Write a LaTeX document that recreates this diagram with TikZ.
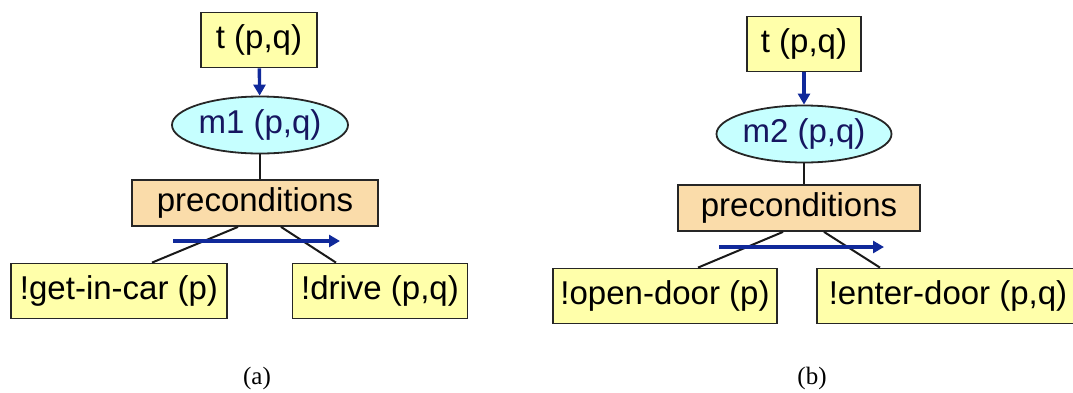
\documentclass[tikz,border=0pt]{standalone}
\usepackage{fontspec}
\setmainfont{Liberation Sans}
\newfontfamily\capfont{Liberation Serif}
\usetikzlibrary{shapes,arrows.meta}
\definecolor{taskyellow}{HTML}{FFFFAA}
\definecolor{methcyan}{HTML}{C6FFFF}
\definecolor{precorange}{HTML}{FADCAA}
\definecolor{flowblue}{HTML}{10299A}
\definecolor{methtext}{HTML}{161660}
\begin{document}
\begin{tikzpicture}[x=1pt,y=1pt]
\tikzstyle{every node}=[font=\fontsize{33}{36}\selectfont,inner sep=0pt,line width=1.8pt,draw=black!85]
\tikzstyle{task}=[rectangle,fill=taskyellow,minimum height=55pt]
\tikzstyle{meth}=[ellipse,fill=methcyan,text=methtext,minimum width=176pt,minimum height=57pt]
\tikzstyle{prec}=[rectangle,fill=precorange,minimum height=46pt]
\tikzstyle{link}=[line width=2pt,black!90]
\tikzstyle{flow}=[line width=3.4pt,flowblue,-{Triangle[length=11pt,width=12pt]}]
\tikzstyle{caption}=[draw=none,font=\capfont\fontsize{25}{27}\selectfont]
\useasboundingbox (0,0) rectangle (1073,-392);
\node[task,minimum width=116pt] (ta) at (259,-40) {t (p,q)};
\node[meth] (ma) at (260,-125) {m1 (p,q)};
\node[prec,minimum width=246pt] (prea) at (255,-203) {preconditions};
\node[task,minimum width=216pt] (a1) at (119,-291) {!get-in-car (p)};
\node[task,minimum width=175pt] (a2) at (380,-291) {!drive (p,q)};
\node[caption] (capa) at (257,-378) {(a)};
\coordinate (fa1) at (173,-241);
\coordinate (fa2) at (340,-241);
\draw[flow] (ta) -- (ma);
\draw[link] (ma.south) -- (ma.south |- prea.north);
\draw[link] ([xshift=-17pt]prea.south) -- ([xshift=33pt]a1.north);
\draw[link] ([xshift=26pt]prea.south) -- ([xshift=-44pt]a2.north);
\draw[flow] (fa1) -- (fa2);
\node[task,minimum width=114pt] (tb) at (804,-44) {t (p,q)};
\node[meth,minimum width=175pt] (mb) at (804,-134) {m2 (p,q)};
\node[prec,minimum width=242pt] (preb) at (799,-208) {preconditions};
\node[task,minimum width=224pt] (b1) at (665,-296) {!open-door (p)};
\node[task,minimum width=262pt] (b2) at (948,-296) {!enter-door (p,q)};
\node[caption] (capb) at (812,-378) {(b)};
\coordinate (fb1) at (719,-247);
\coordinate (fb2) at (884,-247);
\draw[flow] (tb) -- (mb);
\draw[link] (mb.south) -- (mb.south |- preb.north);
\draw[link] ([xshift=-16pt]preb.south) -- ([xshift=33pt]b1.north);
\draw[link] ([xshift=25pt]preb.south) -- ([xshift=-68pt]b2.north);
\draw[flow] (fb1) -- (fb2);
\end{tikzpicture}
\end{document}
